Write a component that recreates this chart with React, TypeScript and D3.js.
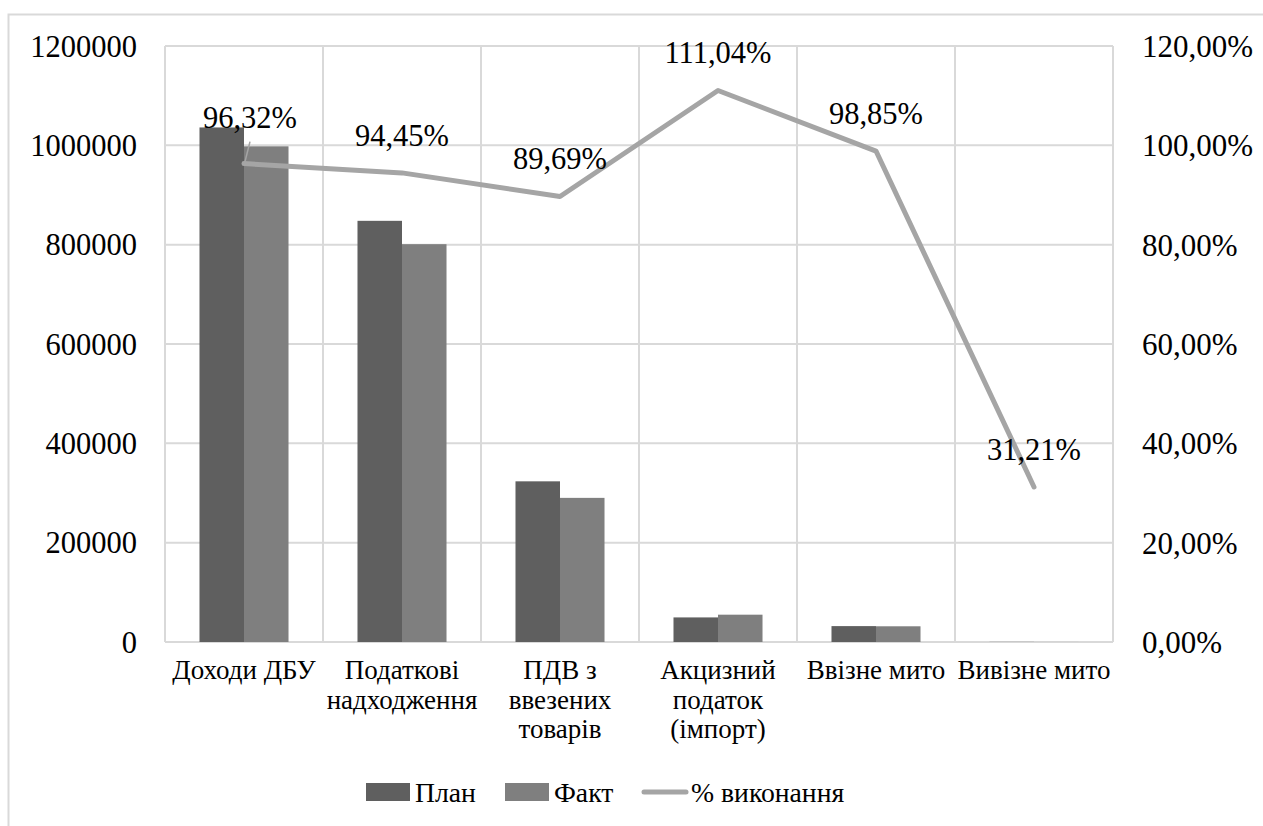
import React from 'react'
import * as d3 from 'd3'

// категорії та значення (читано з рисунка)
const categories = ['Доходи ДБУ', 'Податкові надходження', 'ПДВ з ввезених товарів', 'Акцизний податок (імпорт)', 'Ввізне мито', 'Вивізне мито']
const categoryLines = [['Доходи ДБУ'], ['Податкові', 'надходження'], ['ПДВ з', 'ввезених', 'товарів'], ['Акцизний', 'податок', '(імпорт)'], ['Ввізне мито'], ['Вивізне мито']]
const planValues = [1036000, 848000, 323500, 49500, 32000, 250]
const factValues = [998000, 801000, 290200, 55000, 31630, 78]
const percentValues = [96.32, 94.45, 89.69, 111.04, 98.85, 31.21]
const leftTicks = [0, 200000, 400000, 600000, 800000, 1000000, 1200000]
const rightTicks = [0, 20, 40, 60, 80, 100, 120]
const seriesNames = ['План', 'Факт', '% виконання']

const W = 1263
const H = 826
const plot = { left: 165, right: 1113, top: 46, bottom: 642 }
const font = '"Liberation Serif", "Times New Roman", serif'
const colors = { plan: '#5f5f5f', fact: '#7f7f7f', line: '#a5a5a5', grid: '#d9d9d9' }

const App = () => {
  const ref = React.useRef<SVGSVGElement | null>(null)

  React.useEffect(() => {
    const svg = d3.select(ref.current)
    svg.selectAll('*').remove()

    const x = d3.scaleBand().domain(categories).range([plot.left, plot.right]).paddingInner(0).paddingOuter(0)
    const xs = d3.scaleBand().domain(['plan', 'fact']).range([0, x.bandwidth()]).paddingInner(0).paddingOuter(0.775)
    const y = d3.scaleLinear().domain([0, 1200000]).range([plot.bottom, plot.top])
    const y2 = d3.scaleLinear().domain([0, 120]).range([plot.bottom, plot.top])

    // рамка діаграми
    svg.append('rect')
      .attr('x', 8.5).attr('y', 14.5).attr('width', 1400).attr('height', 1000)
      .attr('fill', 'none').attr('stroke', colors.grid).attr('stroke-width', 2)

    // сітка
    svg.append('g').selectAll('line').data(leftTicks).enter().append('line')
      .attr('x1', plot.left).attr('x2', plot.right)
      .attr('y1', (d) => y(d)).attr('y2', (d) => y(d))
      .attr('stroke', colors.grid).attr('stroke-width', 2)
    const bounds = categories.map((c) => x(c) || 0).concat([plot.right])
    svg.append('g').selectAll('line').data(bounds).enter().append('line')
      .attr('x1', (d) => d).attr('x2', (d) => d)
      .attr('y1', plot.top).attr('y2', plot.bottom)
      .attr('stroke', colors.grid).attr('stroke-width', 2)

    // підписи осей
    svg.append('g').selectAll('text').data(leftTicks).enter().append('text')
      .attr('x', 137).attr('y', (d) => y(d)).attr('dy', '0.35em')
      .attr('text-anchor', 'end')
      .style('font-family', font).style('font-size', '30.5px').attr('fill', '#000')
      .text((d) => String(d))
    svg.append('g').selectAll('text').data(rightTicks).enter().append('text')
      .attr('x', 1142).attr('y', (d) => y2(d)).attr('dy', '0.35em')
      .attr('text-anchor', 'start')
      .style('font-family', font).style('font-size', '31px').attr('fill', '#000')
      .text((d) => d.toFixed(2).replace('.', ',') + '%')

    // стовпці
    const g = svg.append('g')
    categories.forEach((c, i) => {
      const x0 = x(c) || 0
      g.append('rect')
        .attr('x', x0 + (xs('plan') || 0)).attr('width', xs.bandwidth())
        .attr('y', y(planValues[i])).attr('height', y(0) - y(planValues[i]))
        .attr('fill', colors.plan)
      g.append('rect')
        .attr('x', x0 + (xs('fact') || 0)).attr('width', xs.bandwidth())
        .attr('y', y(factValues[i])).attr('height', y(0) - y(factValues[i]))
        .attr('fill', colors.fact)
    })

    // лінія % виконання
    const line = d3.line<number>()
      .x((d, i) => (x(categories[i]) || 0) + x.bandwidth() / 2)
      .y((d) => y2(d))
    svg.append('path').datum(percentValues)
      .attr('d', line)
      .attr('fill', 'none').attr('stroke', colors.line).attr('stroke-width', 5)
      .attr('stroke-linejoin', 'round').attr('stroke-linecap', 'round')

    // виноска для першої мітки
    const cx0 = (x(categories[0]) || 0) + x.bandwidth() / 2
    svg.append('line')
      .attr('x1', cx0 + 6).attr('y1', y2(percentValues[0]) - 22)
      .attr('x2', cx0 + 1).attr('y2', y2(percentValues[0]) - 2)
      .attr('stroke', colors.line).attr('stroke-width', 1.5)

    svg.append('g').selectAll('text').data(percentValues).enter().append('text')
      .attr('x', (d, i) => (x(categories[i]) || 0) + x.bandwidth() / 2 + (i === 0 ? 6 : 0))
      .attr('y', (d, i) => y2(d) - (i === 0 ? 46 : 38))
      .attr('dy', '0.35em')
      .attr('text-anchor', 'middle')
      .style('font-family', font).style('font-size', '30.5px').attr('fill', '#000')
      .text((d) => d.toFixed(2).replace('.', ',') + '%')

    // підписи категорій
    categories.forEach((c, i) => {
      const t = svg.append('text')
        .attr('x', (x(c) || 0) + x.bandwidth() / 2).attr('y', 679)
        .attr('text-anchor', 'middle')
        .style('font-family', font).style('font-size', '27px').attr('fill', '#000')
      categoryLines[i].forEach((s, j) => {
        t.append('tspan').attr('x', (x(c) || 0) + x.bandwidth() / 2).attr('dy', j === 0 ? 0 : 29.5).text(s)
      })
    })

    // легенда
    const lg = svg.append('g').style('font-family', font).style('font-size', '27.7px')
    lg.append('rect').attr('x', 366).attr('y', 783).attr('width', 44).attr('height', 18).attr('fill', colors.plan)
    lg.append('text').attr('x', 415).attr('y', 802).text(seriesNames[0])
    lg.append('rect').attr('x', 505).attr('y', 783).attr('width', 44).attr('height', 18).attr('fill', colors.fact)
    lg.append('text').attr('x', 554).attr('y', 802).text(seriesNames[1])
    lg.append('line').attr('x1', 644).attr('x2', 686).attr('y1', 792).attr('y2', 792)
      .attr('stroke', colors.line).attr('stroke-width', 5).attr('stroke-linecap', 'round')
    lg.append('text').attr('x', 691).attr('y', 802).text(seriesNames[2])
  }, [])

  return <svg ref={ref} width={W} height={H} style={{ position: 'absolute', left: 0, top: 0, display: 'block', background: '#fff' }}></svg>
}

export default App
